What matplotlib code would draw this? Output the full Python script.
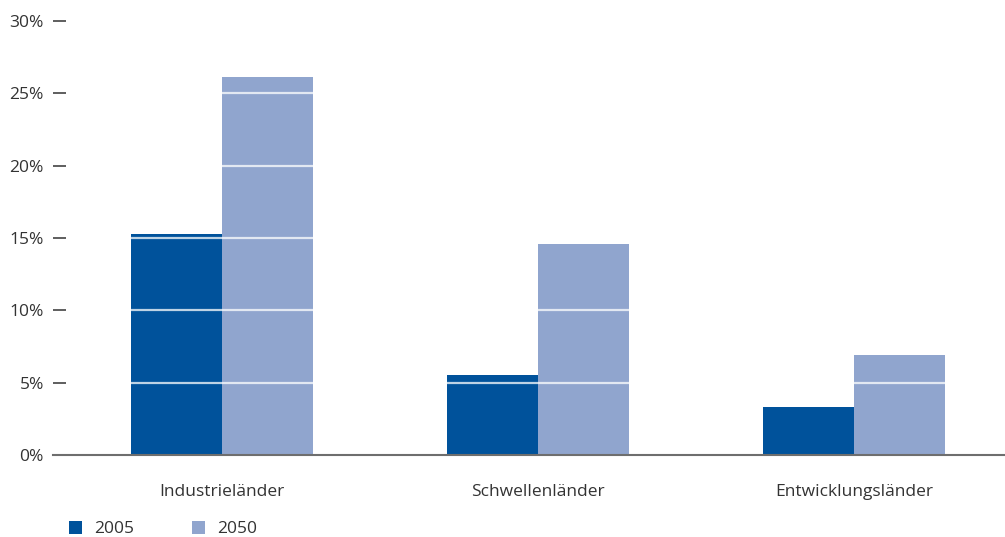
import matplotlib
matplotlib.use("Agg")
import matplotlib.pyplot as plt
import numpy as np

plt.rcParams['font.family'] = ['Open Sans', 'DejaVu Sans']

# data
categories = ["Industrieländer", "Schwellenländer", "Entwicklungsländer"]
share_2005 = [15.3, 5.5, 3.3]
share_2050 = [26.1, 14.6, 6.9]
yticks = [0, 5, 10, 15, 20, 25, 30]
ytick_labels = ["0%", "5%", "10%", "15%", "20%", "25%", "30%"]

dark_blue = "#00529b"
light_blue = "#90a5ce"

fig = plt.figure(figsize=(10.05, 5.37), dpi=100)
ax = fig.add_axes([53 / 1005, (537 - 455) / 537, 1 - 53 / 1005, (455 - 21) / 537])

x = np.arange(len(categories))
w = 0.288
ax.bar(x - w / 2, share_2005, w, color=dark_blue, label="2005", zorder=2)
ax.bar(x + w / 2, share_2050, w, color=light_blue, label="2050", zorder=2)

# white grid lines show only on top of the bars (kept clear of the tick marks)
for t in yticks[1:]:
    ax.axhline(t, xmin=0.03, color="white", lw=1.6, alpha=0.75, zorder=3)

ax.set_xlim(-0.535, 2.478)
ax.set_ylim(0, 30)

for s in ["left", "right", "top"]:
    ax.spines[s].set_visible(False)
ax.spines["bottom"].set_color("#6e6e6e")
ax.spines["bottom"].set_linewidth(1.5)
ax.spines["bottom"].set_zorder(4)

ax.set_yticks(yticks)
ax.set_yticklabels(ytick_labels)
ax.tick_params(axis="y", direction="in", length=9.5, width=1.1, color="#333333",
               pad=6.5, labelsize=12.5, labelcolor="#333333")
ax.set_xticks(x)
ax.set_xticklabels(categories)
ax.tick_params(axis="x", length=0, pad=21, labelsize=12.5, labelcolor="#333333")

fig.legend(loc="lower left", bbox_to_anchor=(53 / 1005, -16 / 537), ncol=2,
           frameon=False, fontsize=12.5, handlelength=0.75, handleheight=0.75,
           handletextpad=0.7, columnspacing=3.35, labelcolor="#333333")

fig.savefig("out.png", dpi=100)
